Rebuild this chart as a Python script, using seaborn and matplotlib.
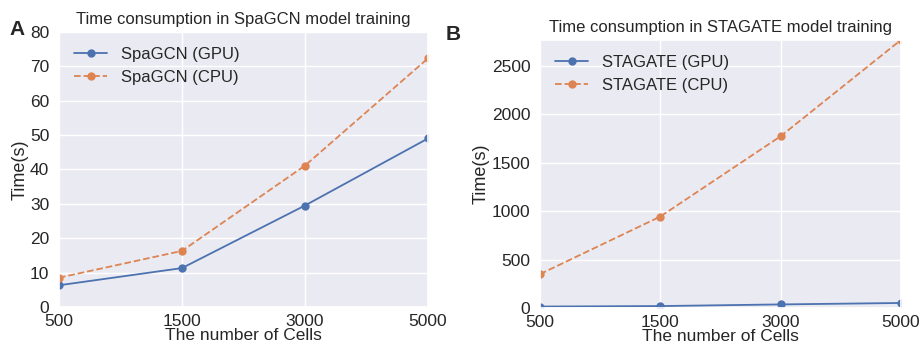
import matplotlib
matplotlib.use("Agg")
import matplotlib.pyplot as plt
import seaborn as sns
import pandas as pd

cells = ["500", "1500", "3000", "5000"]
spagcn_gpu = [6.3, 11.3, 29.5, 49.0]
spagcn_cpu = [8.5, 16.3, 41.1, 72.3]
stagate_gpu = [15, 20, 37, 52]
stagate_cpu = [350, 945, 1775, 2770]

sns.set_theme(style="darkgrid")
plt.rcParams['font.family'] = ['Liberation Sans', 'DejaVu Sans']

fig = plt.figure(figsize=(9.21, 3.5), dpi=100)
ax1 = fig.add_axes([0.064, 0.123, 0.4007, 0.786])
ax2 = fig.add_axes([0.5863, 0.12, 0.392, 0.766])

blue, orange = sns.color_palette("deep")[0], sns.color_palette("deep")[1]

def panel(ax, gpu, cpu, name, title, ylim):
    df = pd.DataFrame({"x": cells, "gpu": gpu, "cpu": cpu})
    sns.lineplot(data=df, x="x", y="gpu", ax=ax, color=blue, marker="o",
                 markeredgewidth=0, markersize=6, linewidth=1.3,
                 label=f"{name} (GPU)", sort=False)
    sns.lineplot(data=df, x="x", y="cpu", ax=ax, color=orange, marker="o",
                 markeredgewidth=0, markersize=6, linewidth=1.3, linestyle="--",
                 label=f"{name} (CPU)", sort=False)
    ax.set_xlim(0, len(cells) - 1)
    ax.set_ylim(*ylim)
    ax.set_title(title, fontsize=12)
    ax.set_xlabel("The number of Cells", fontsize=12.5, labelpad=-1)
    ax.set_ylabel("Time(s)", fontsize=13, labelpad=1)
    ax.tick_params(axis="y", labelsize=12.5, pad=1)
    ax.tick_params(axis="x", labelsize=12.5, pad=-1)
    ax.legend(loc="upper left", frameon=False, fontsize=12, handlelength=2.0,
              handletextpad=0.8)

panel(ax1, spagcn_gpu, spagcn_cpu, "SpaGCN",
      "Time consumption in SpaGCN model training", (0, 80))
panel(ax2, stagate_gpu, stagate_cpu, "STAGATE",
      "Time consumption in STAGATE model training", (0, max(stagate_cpu)))
ax1.set_yticks(range(0, 81, 10))
ax2.set_yticks(range(0, 2501, 500))

fig.text(0.019, 0.915, "A", fontsize=15, fontweight="bold", ha="center", va="center")
fig.text(0.492, 0.9, "B", fontsize=15, fontweight="bold", ha="center", va="center")

fig.savefig("out.png", dpi=100)
